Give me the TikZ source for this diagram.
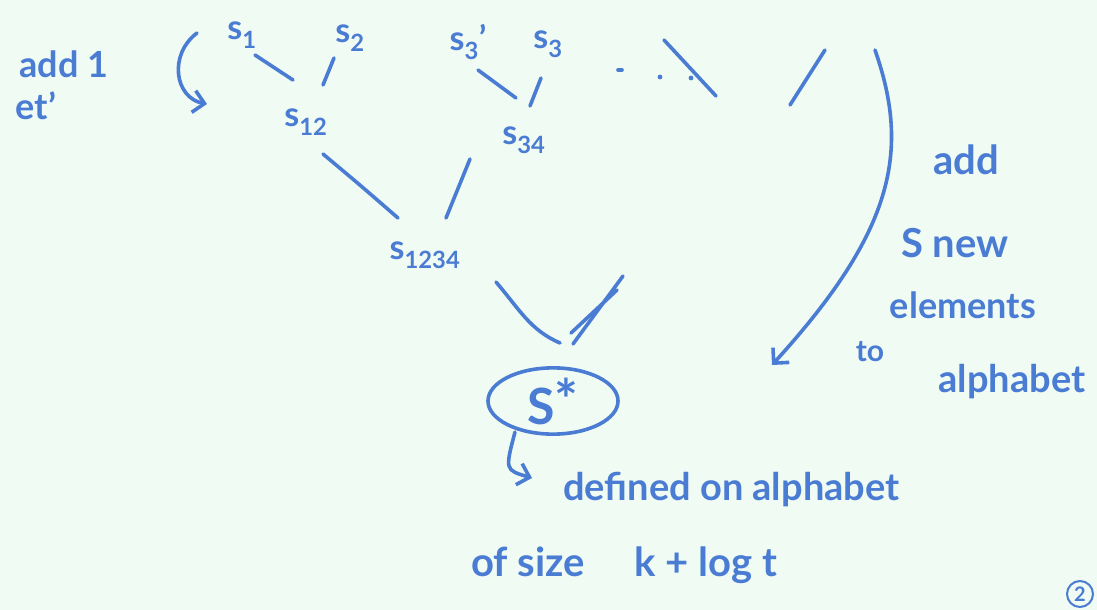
\documentclass[tikz,border=0pt]{standalone}
\usepackage{fontspec}
\setmainfont{Lato}
\usetikzlibrary{arrows.meta,shapes.geometric}
\definecolor{paper}{RGB}{240,251,243}
\definecolor{ink}{RGB}{74,124,212}
\tikzset{
  pen/.style={draw=ink, line width=3.6pt, line cap=round, line join=round},
  hand/.style={text=ink, inner sep=1pt, font=\fontsize{#1}{#1}\selectfont\bfseries},
  hand/.default=34,
  barb/.style={-{Straight Barb[length=11pt,width=22pt,line width=3.6pt]}},
}
\begin{document}
\begin{tikzpicture}[x=1pt,y=-1pt]
\fill[paper] (0,0) rectangle (1097,610);
\useasboundingbox (0,0) rectangle (1097,610);

% left note
\node[hand=36] (add1) at (64,64) {add 1};
\node[hand=36] (et) at (36,106) {et'};
\coordinate (la1) at (197,33);
\coordinate (la2) at (207,104);
\draw[pen,barb] (la1) .. controls (168,55) and (175,98) .. (la2);

% tree labels
\node[hand=34] (s1) at (242,35) {s\textsubscript{1}};
\node[hand=34] (s2) at (350,38) {s\textsubscript{2}};
\node[hand=34] (s3p) at (468,42) {s\textsubscript{3}'};
\node[hand=34] (s3) at (548,44) {s\textsubscript{3}};
\node[hand=34] (s12) at (306,122) {s\textsubscript{12}};
\node[hand=34] (s34) at (524,140) {s\textsubscript{34}};
\node[hand=34] (s1234) at (425,255) {s\textsubscript{1234}};
\node[hand=50, draw=ink, line width=3.6pt, ellipse, minimum width=130pt, minimum height=62pt, inner sep=0pt] (sstar) at (553,401) {S\raisebox{4pt}{\fontsize{56}{56}\selectfont *}};

% tree strokes
\coordinate (a1) at (255,55); \coordinate (a2) at (293,80);
\coordinate (b1) at (334,58); \coordinate (b2) at (323,85);
\coordinate (c1) at (478,70); \coordinate (c2) at (516,98);
\coordinate (d1) at (541,78); \coordinate (d2) at (530,106);
\draw[pen] (a1) -- (a2);
\draw[pen] (b1) -- (b2);
\draw[pen] (c1) -- (c2);
\draw[pen] (d1) -- (d2);
\coordinate (e1) at (323,154); \coordinate (e2) at (398,218);
\coordinate (f1) at (470,159); \coordinate (f2) at (446,218);
\draw[pen] (e1) .. controls (360,185) .. (e2);
\draw[pen] (f1) -- (f2);
\coordinate (g1) at (496,282); \coordinate (g2) at (560,343);
\draw[pen] (g1) .. controls (520,310) and (530,330) .. (g2);
\coordinate (h1) at (623,276); \coordinate (h2) at (573,344);
\coordinate (i1) at (617,290); \coordinate (i2) at (571,333);
\draw[pen] (h1) -- (h2);
\draw[pen] (i1) -- (i2);

% dots and further strokes
\coordinate (dot1) at (618,70);
\coordinate (dot2) at (660,77);
\coordinate (dot3) at (691,78);
\draw[pen] (dot1) -- ++(4,0);
\fill[ink] (dot2) circle (2.4pt);
\fill[ink] (dot3) circle (2.4pt);
\coordinate (j1) at (664,40); \coordinate (j2) at (716,96);
\draw[pen] (j1) -- (j2);
\coordinate (k1) at (825,50); \coordinate (k2) at (790,105);
\draw[pen] (k1) -- (k2);

% big arrow on the right
\coordinate (r1) at (875,50);
\coordinate (r2) at (772,365);
\draw[pen,barb] (r1) .. controls (910,150) and (895,230) .. (r2);

\node[hand=40] (radd) at (966,160) {add};
\node[hand=40] (rnew) at (955,243) {S new};
\node[hand=36] (relem) at (963,305) {elements};
\node[hand=30] (rto) at (870,352) {to};
\node[hand=38] (ralpha) at (1012,382) {alphabet};

% bottom note
\coordinate (hk0) at (515,432);
\coordinate (hk) at (532,478);
\draw[pen,barb] (hk0) .. controls (505,470) .. (hk);
\node[hand=38,anchor=west] (def) at (562,490) {defined on alphabet};
\node[hand=40,anchor=west] (size) at (470,565) {of size \hspace{30pt} k + log t};

% page number at the corner
\node[hand=20, draw=ink, line width=2pt, circle, minimum size=26pt] (pg) at (1080,594) {2};
\end{tikzpicture}
\end{document}
